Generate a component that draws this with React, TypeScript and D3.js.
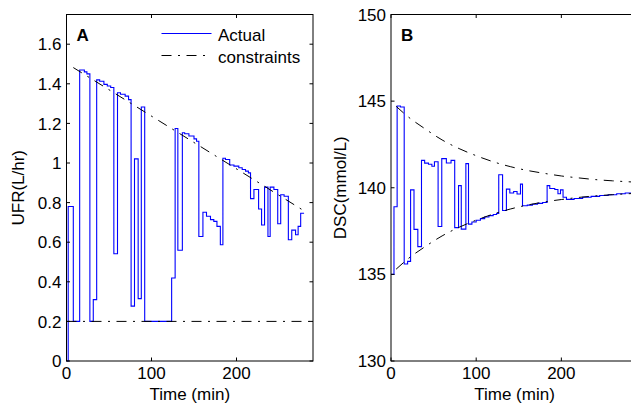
import React from "react";
import * as d3 from "d3";

// ---------- Panel A : UFR (L/hr) ----------
const timeA = [0, 2, 8, 15.5, 21, 24, 27.5, 31.5, 35.5, 39, 44, 48, 52, 55.7, 60, 63.5, 69, 73, 76, 80, 84.3, 88, 92, 123.7, 127.8, 131, 136.3, 139, 144, 150, 153, 155.7, 160.5, 164.7, 169.4, 173.3, 177, 181, 184, 187, 192, 197, 202.7, 206.7, 210.6, 214, 216.5, 220.5, 226, 229.5, 233, 237, 239.6, 244, 248.5, 252, 256, 261, 265, 269.5, 272.5, 275.5, 279.5];
const ufrA = [0, 0.78, 0.2, 1.47, 1.46, 1.45, 0.2, 0.31, 1.42, 1.413, 1.397, 1.389, 1.381, 0.542, 1.355, 1.347, 1.338, 1.32, 0.277, 1.021, 0.315, 1.283, 0.2, 0.419, 1.174, 0.559, 1.153, 1.148, 1.136, 1.122, 1.11, 0.629, 0.751, 0.731, 0.714, 0.705, 0.68, 0.587, 1.024, 1.018, 0.99, 0.984, 0.976, 0.967, 0.959, 0.95, 0.82, 0.866, 0.768, 0.687, 0.878, 0.629, 0.878, 0.866, 0.693, 0.84, 0.832, 0.612, 0.661, 0.638, 0.68, 0.746, 0.746];
const upperTimeA = [8, 280];
const upperA = [1.482, 0.757];
const lowerTimeA = [0, 290];
const lowerA = [0.2, 0.2];
const yTicksA = [0, 0.2, 0.4, 0.6, 0.8, 1, 1.2, 1.4, 1.6];

// ---------- Panel B : DSC (mmol/L) ----------
const timeB = [0, 3.5, 7.2, 11, 15.5, 19.5, 23, 27, 31.5, 35.8, 39.5, 44, 48, 51, 55.3, 59.6, 65, 70.5, 74.8, 79.3, 82.5, 87.9, 91, 95, 100, 105, 110, 115, 120, 124, 126.5, 131, 135.5, 139.5, 144, 148, 152, 154.4, 160, 166, 172, 178, 183.3, 186.4, 192.3, 196, 199, 202, 206, 215, 225, 235, 245, 255, 265, 275, 282];
const dscB = [135.0, 138.9, 144.72, 144.66, 135.6, 135.75, 139.88, 137.6, 136.6, 141.58, 141.42, 141.36, 141.24, 141.5, 137.76, 141.68, 141.43, 141.58, 137.7, 140.12, 137.61, 141.39, 137.9, 138.02, 138.12, 138.22, 138.31, 138.39, 138.46, 138.52, 140.75, 138.69, 139.92, 139.7, 139.78, 139.64, 140.21, 138.96, 139.0, 139.05, 139.1, 139.15, 140.12, 139.96, 139.9, 139.65, 139.88, 139.45, 139.33, 139.38, 139.45, 139.5, 139.55, 139.6, 139.65, 139.7, 139.72];
const constraintTimeB = [6, 20, 40, 60, 80, 100, 120, 140, 160, 180, 200, 220, 240, 260, 288];
const upperB = [144.7, 144.1, 143.4, 142.76, 142.26, 141.85, 141.5, 141.22, 141.0, 140.83, 140.68, 140.57, 140.47, 140.4, 140.32];
const lowerB = [135.3, 135.9, 136.6, 137.22, 137.72, 138.13, 138.48, 138.77, 139.0, 139.18, 139.32, 139.44, 139.53, 139.6, 139.68];
const yTicksB = [130, 135, 140, 145, 150];

const xTicks = [0, 100, 200];
const xDomain = [0, 290];

const FONT = "'Liberation Sans', Arial, Helvetica, sans-serif";
const FS = 17;
const DASH = "10,6.5,2,6.5";
const BLUE = "#0000ff";

type PanelProps = {
  left: number;
  right: number;
  top: number;
  bottom: number;
  yDomain: [number, number];
  yTicks: number[];
  ylabel: string;
  ylabelX: number;
  letter: string;
  series: { t: number[]; v: number[] };
  constraints: { t: number[]; v: number[]; smooth: boolean }[];
  legend?: boolean;
};

function Panel(p: PanelProps) {
  const x = d3.scaleLinear().domain(xDomain).range([p.left, p.right]);
  const y = d3.scaleLinear().domain(p.yDomain).range([p.bottom, p.top]);
  const stepLine = d3
    .line<number>()
    .x((_, i) => x(p.series.t[i]))
    .y((d) => y(d))
    .curve(d3.curveStepAfter);
  const tk = 3.5;
  const fmt = (v: number) => String(v);
  const midY = (p.top + p.bottom) / 2;
  return (
    <g>
      <path d={stepLine(p.series.v) || ""} fill="none" stroke={BLUE} strokeWidth={1.1} />
      {p.constraints.map((c, k) => {
        const ln = d3
          .line<number>()
          .x((_, i) => x(c.t[i]))
          .y((d) => y(d))
          .curve(c.smooth ? d3.curveMonotoneX : d3.curveLinear);
        return (
          <path key={k} d={ln(c.v) || ""} fill="none" stroke="#000" strokeWidth={1} strokeDasharray={DASH} />
        );
      })}
      {/* box */}
      <rect x={p.left} y={p.top} width={p.right - p.left} height={p.bottom - p.top} fill="none" stroke="#000" strokeWidth={1} />
      {/* y ticks */}
      {p.yTicks.map((v) => (
        <g key={"y" + v}>
          <line x1={p.left} x2={p.left + tk} y1={y(v)} y2={y(v)} stroke="#000" />
          <line x1={p.right} x2={p.right - tk} y1={y(v)} y2={y(v)} stroke="#000" />
          <text x={p.left - 5} y={y(v)} dy="0.36em" textAnchor="end" fontFamily={FONT} fontSize={FS} fill="#000">
            {fmt(v)}
          </text>
        </g>
      ))}
      {/* x ticks */}
      {xTicks.map((v) => (
        <g key={"x" + v}>
          <line x1={x(v)} x2={x(v)} y1={p.bottom} y2={p.bottom - tk} stroke="#000" />
          <line x1={x(v)} x2={x(v)} y1={p.top} y2={p.top + tk} stroke="#000" />
          <text x={x(v)} y={p.bottom + 18} textAnchor="middle" fontFamily={FONT} fontSize={FS} fill="#000">
            {fmt(v)}
          </text>
        </g>
      ))}
      <text x={x(0) + (x(290) - x(0)) / 2} y={p.bottom + 39} textAnchor="middle" fontFamily={FONT} fontSize={FS} fill="#000">
        Time (min)
      </text>
      <text
        transform={`translate(${p.ylabelX},${midY}) rotate(-90)`}
        textAnchor="middle"
        fontFamily={FONT}
        fontSize={FS}
        fill="#000"
      >
        {p.ylabel}
      </text>
      <text x={p.left + 10} y={p.top + 26} fontFamily={FONT} fontSize={FS} fontWeight="bold" fill="#000">
        {p.letter}
      </text>
      {p.legend && (
        <g>
          <line x1={161.5} x2={211.5} y1={33.5} y2={33.5} stroke={BLUE} strokeWidth={1.1} />
          <text x={218} y={40.5} fontFamily={FONT} fontSize={FS} fill="#000">
            Actual
          </text>
          <line x1={161.5} x2={211.5} y1={55.5} y2={55.5} stroke="#000" strokeWidth={1} strokeDasharray={DASH} />
          <text x={218} y={63} fontFamily={FONT} fontSize={FS} fill="#000">
            constraints
          </text>
        </g>
      )}
    </g>
  );
}

export default function App() {
  return (
    <svg
      width={631}
      height={408}
      style={{ position: "absolute", left: 0, top: 0, background: "#fff" }}
    >
      <rect x={0} y={0} width={631} height={408} fill="#fff" />
      <Panel
        left={66.5}
        right={313}
        top={14.5}
        bottom={361}
        yDomain={[0, 1.75]}
        yTicks={yTicksA}
        ylabel="UFR(L/hr)"
        ylabelX={23.5}
        letter="A"
        series={{ t: timeA, v: ufrA }}
        constraints={[
          { t: upperTimeA, v: upperA, smooth: false },
          { t: lowerTimeA, v: lowerA, smooth: false },
        ]}
        legend
      />
      <Panel
        left={391}
        right={638}
        top={14.5}
        bottom={361}
        yDomain={[130, 150]}
        yTicks={yTicksB}
        ylabel="DSC(mmol/L)"
        ylabelX={345.5}
        letter="B"
        series={{ t: timeB, v: dscB }}
        constraints={[
          { t: constraintTimeB, v: upperB, smooth: true },
          { t: constraintTimeB, v: lowerB, smooth: true },
        ]}
      />
    </svg>
  );
}
